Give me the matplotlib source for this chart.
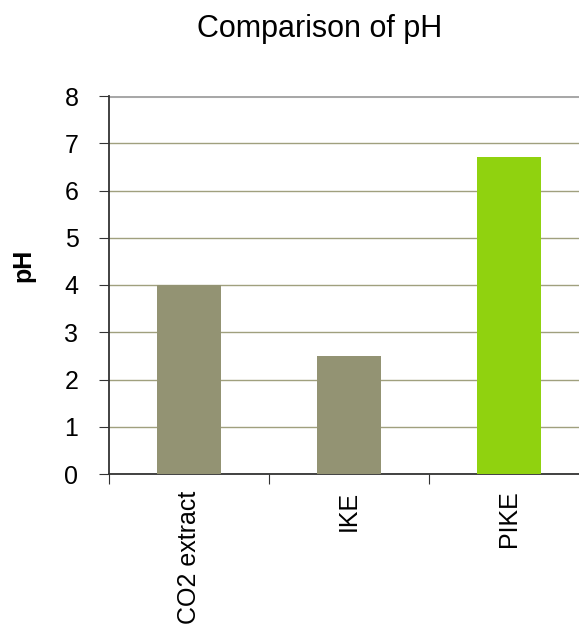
import matplotlib.pyplot as plt

plt.rcParams['font.family'] = ['Liberation Sans', 'DejaVu Sans']

categories = ['CO2 extract', 'IKE', 'PIKE']
ph_values = [4.0, 2.5, 6.7]
bar_colors = ['#939373', '#939373', '#90d20f']

fig = plt.figure(figsize=(5.79, 6.31), dpi=100)
ax = fig.add_axes([109 / 579, 157 / 631, 480 / 579, 378 / 631])

x = list(range(len(categories)))
ax.bar(x, ph_values, width=0.405, color=bar_colors, zorder=3)

ax.set_xlim(-0.5, 2.5)
ax.set_ylim(0, 8)
ax.set_yticks(range(0, 9))
ax.set_axisbelow(True)
ax.yaxis.grid(True, color='#a0a07e', linewidth=1)
ax.axhline(8, color='#a8a8a8', linewidth=2.2, zorder=2.5)

ax.set_xticks([-0.5, 0.5, 1.5, 2.5])
ax.set_xticklabels([])
ax.set_xticks(x, minor=True)
ax.set_xticklabels(categories, minor=True, rotation=90, fontsize=18)
ax.tick_params(axis='x', which='minor', length=0, pad=12)
ax.tick_params(axis='x', which='major', length=7, direction='out', color='#333333')
ax.tick_params(axis='y', length=7, direction='out', labelsize=18, color='#333333', pad=15)

for s in ['top', 'right']:
    ax.spines[s].set_visible(False)
ax.spines['left'].set_color('#333333')
ax.spines['bottom'].set_color('#333333')
ax.spines['left'].set_linewidth(1.3)
ax.spines['bottom'].set_linewidth(1.3)

ax.set_ylabel('pH', fontsize=18, fontweight='bold', va='center')
ax.yaxis.set_label_coords(-0.179, 0.553)
fig.text(319.5 / 579, 1 - 37 / 631, 'Comparison of pH', ha='center', va='baseline', fontsize=22)

fig.savefig('out.png', dpi=100)
